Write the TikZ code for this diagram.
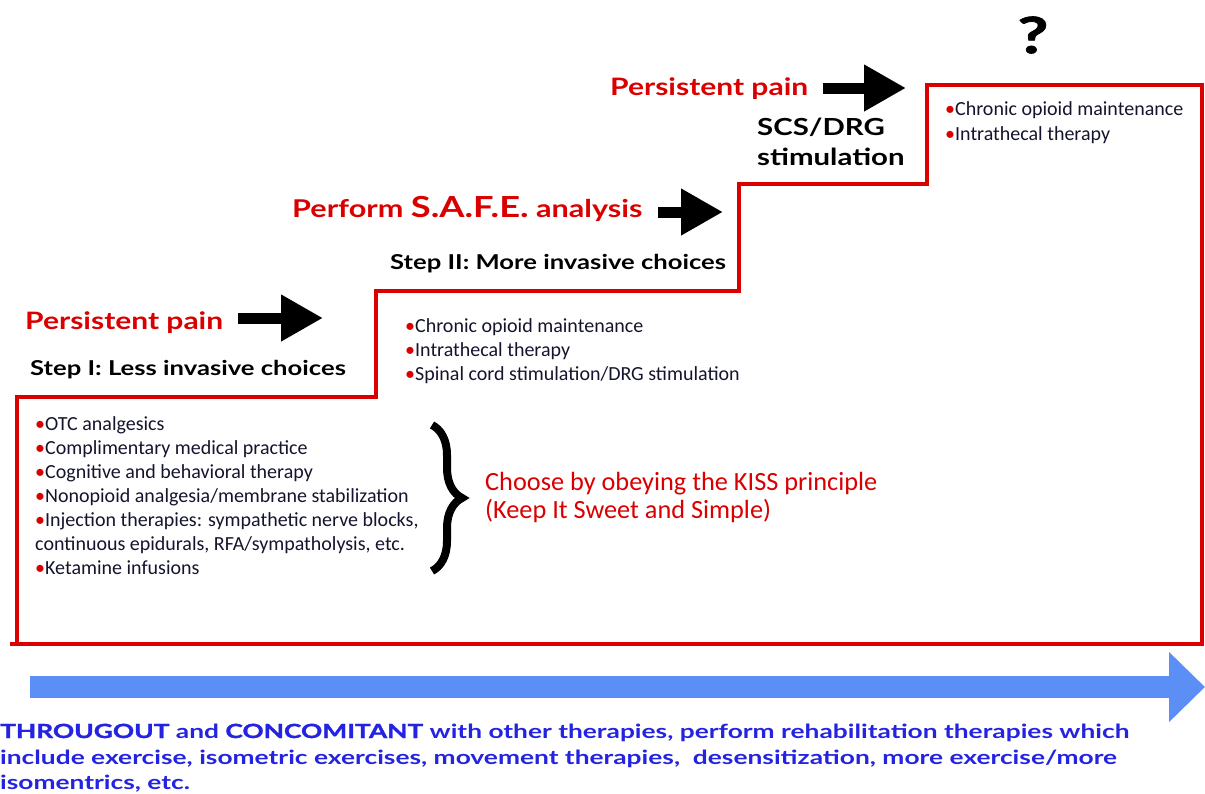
\documentclass[tikz,border=0pt]{standalone}
\usepackage{fontspec}
\setmainfont{Carlito}
\newfontfamily\headfont[FakeStretch=1.25]{Lato}
\newfontfamily\notefont[FakeStretch=1.35]{Lato}
\newfontfamily\loudfont[FakeStretch=1.35,FakeBold=1.5]{Lato}
\usetikzlibrary{arrows.meta,decorations.pathreplacing}
\definecolor{stepred}{RGB}{218,0,0}
\definecolor{itemtext}{RGB}{20,20,45}
\definecolor{flowblue}{RGB}{92,143,245}
\definecolor{noteblue}{RGB}{35,35,225}
\newcommand{\bul}{\textcolor{stepred}{\textbullet}}

\begin{document}
\begin{tikzpicture}[x=1pt,y=-1pt,
    every node/.style={inner sep=0pt,anchor=base west},
    item/.style={font=\fontsize{20}{24}\selectfont,text=itemtext},
    head/.style={font=\headfont\bfseries\fontsize{24}{28}\selectfont,text=stepred},
    stephead/.style={font=\headfont\bfseries\fontsize{20.5}{24}\selectfont,text=black},
    bigarrow/.style={line width=11pt,-{Triangle[length=42pt,width=44pt]}},
    flowarrow/.style={draw=flowblue,line width=22pt,-{Triangle[length=36pt,width=68pt]}},
    note/.style={font=\notefont\bfseries\fontsize{19.5}{25}\selectfont,text=noteblue}]
\useasboundingbox (0,0) rectangle (1205,793);

% the staircase
\draw[stepred,line width=4.5pt] (10,644) -- (1202,644) -- (1202,85) -- (927,85) -- (927,184)
  -- (739,184) -- (739,291) -- (376,291) -- (376,397) -- (17,397) -- (17,644);

% step I
\node[head] (pain1) at (25,329) {Persistent pain};
\node[stephead] (step1) at (30,375) {Step I: Less invasive choices};
\coordinate (a1s) at (238,318);
\coordinate (a1e) at (323,318);
\draw[bigarrow] (a1s) -- (a1e);
\foreach \txt [count=\i] in {{\bul OTC analgesics},{\bul Complimentary medical practice},
    {\bul Cognitive and behavioral therapy},{\bul Nonopioid analgesia/membrane stabilization},
    {\bul Injection therapies: sympathetic nerve blocks,},
    {continuous epidurals, RFA/sympatholysis, etc.},{\bul Ketamine infusions}}
  \node[item] (one\i) at (35,430+24*\i-24) {\txt};

\draw[decorate,decoration={brace,amplitude=30pt},line width=8pt] (432,425) -- (432,571);
\node[font=\fontsize{26.3}{30}\selectfont,text=stepred] (kiss1) at (485,490) {Choose by obeying the KISS principle};
\node[font=\fontsize{26.3}{30}\selectfont,text=stepred] (kiss2) at (485,518) {(Keep It Sweet and Simple)};

% step II
\node[head] (safe) at (292,217) {\fontsize{24.5}{28}\selectfont Perform {\fontsize{29}{32}\selectfont S.A.F.E.} analysis};
\node[stephead] (step2) at (390,269) {Step II: More invasive choices};
\coordinate (a2s) at (658,212);
\coordinate (a2e) at (723,212);
\draw[bigarrow] (a2s) -- (a2e);
\foreach \txt [count=\i] in {{\bul Chronic opioid maintenance},{\bul Intrathecal therapy},
    {\bul Spinal cord stimulation/DRG stimulation}}
  \node[item] (two\i) at (405,332+24*\i-24) {\txt};

% step III
\node[head] (pain3) at (610,95) {Persistent pain};
\node[stephead,font=\headfont\bfseries\fontsize{23.5}{27}\selectfont] (scs) at (757,135) {SCS/DRG};
\node[stephead,font=\headfont\bfseries\fontsize{23.5}{27}\selectfont] (stim) at (757,165) {stimulation};
\coordinate (a3s) at (823,88);
\coordinate (a3e) at (906,88);
\draw[bigarrow] (a3s) -- (a3e);
\foreach \txt [count=\i] in {{\bul Chronic opioid maintenance},{\bul Intrathecal therapy}}
  \node[item] (three\i) at (945,115+25*\i-25) {\txt};
\node[anchor=center,font=\loudfont\bfseries\fontsize{50}{50}\selectfont] (what) at (1033,35) {?};

% rehabilitation all along
\coordinate (flow0) at (30,687);
\coordinate (flow1) at (1205,687);
\draw[flowarrow] (flow0) -- (flow1);
\node[note] (rehab1) at (0,738) {{\loudfont\bfseries THROUGOUT} and {\loudfont\bfseries CONCOMITANT} with other therapies, perform rehabilitation therapies which};
\node[note] (rehab2) at (0,764) {include exercise, isometric exercises, movement therapies,\ \ desensitization, more exercise/more};
\node[note] (rehab3) at (0,789) {isomentrics, etc.};
\end{tikzpicture}
\end{document}
